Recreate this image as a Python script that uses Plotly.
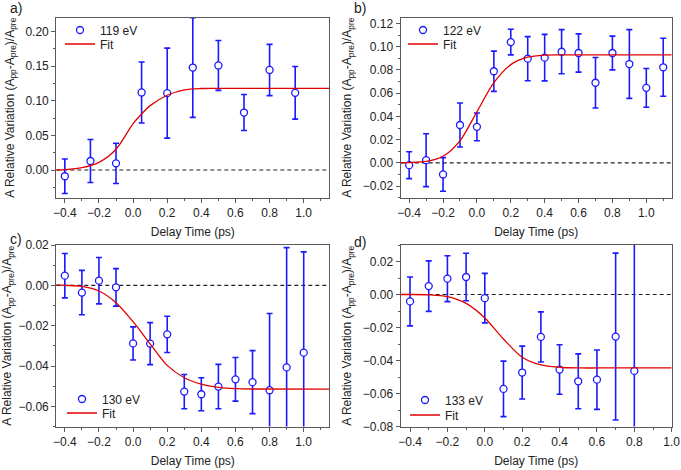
import plotly.graph_objects as go

# ---------------- data ----------------
# panel a) 119 eV
a_t = [-0.4, -0.25, -0.1, 0.05, 0.2, 0.35, 0.5, 0.65, 0.8, 0.95]
a_y = [-0.009, 0.013, 0.0096, 0.112, 0.111, 0.148, 0.151, 0.083, 0.1445, 0.1115]
a_err = [0.025, 0.031, 0.029, 0.044, 0.065, 0.072, 0.036, 0.026, 0.037, 0.038]
a_fit_t = [-0.45, -0.4, -0.3, -0.2, -0.1, 0.0, 0.05, 0.1, 0.2, 0.3, 0.4, 0.5, 0.8, 1.15]
a_fit_y = [0.0, 0.0005, 0.0033, 0.011, 0.030, 0.067, 0.081, 0.093, 0.108, 0.1158, 0.1177, 0.118, 0.118, 0.118]

# panel b) 122 eV
b_t = [-0.4, -0.3, -0.2, -0.1, 0.0, 0.1, 0.2, 0.3, 0.4, 0.5, 0.6, 0.7, 0.8, 0.9, 1.0, 1.1]
b_y = [-0.002, 0.0023, -0.010, 0.0326, 0.031, 0.0789, 0.104, 0.0897, 0.0906, 0.0957,
       0.0946, 0.069, 0.0946, 0.0851, 0.0646, 0.0823]
b_err = [0.0116, 0.0228, 0.0145, 0.019, 0.012, 0.0173, 0.011, 0.019, 0.020, 0.019,
         0.0165, 0.0217, 0.0145, 0.0296, 0.0167, 0.025]
b_fit_t = [-0.45, -0.4, -0.3, -0.2, -0.1, 0.0, 0.1, 0.2, 0.3, 0.4, 0.5, 0.8, 1.15]
b_fit_y = [0.0, 0.0002, 0.0012, 0.0057, 0.019, 0.044, 0.069, 0.0846, 0.091, 0.0928, 0.093, 0.093, 0.093]

# panel c) 130 eV
c_t = [-0.4, -0.3, -0.2, -0.1, 0.0, 0.1, 0.2, 0.3, 0.4, 0.5, 0.6, 0.7, 0.8, 0.9, 1.0]
c_y = [0.0048, -0.0036, 0.0023, -0.001, -0.0288, -0.0289, -0.0243, -0.0527, -0.054,
       -0.0502, -0.0466, -0.048, -0.052, -0.0407, -0.0334]
c_err = [0.011, 0.011, 0.0115, 0.0093, 0.0082, 0.0104, 0.009, 0.0085, 0.0082, 0.011,
         0.0108, 0.0156, 0.038, 0.0594, 0.050]
c_fit_t = [-0.45, -0.4, -0.3, -0.2, -0.1, 0.0, 0.1, 0.2, 0.3, 0.4, 0.5, 0.6, 0.7, 1.15]
c_fit_y = [0.0002, 0.0, -0.0005, -0.0028, -0.0086, -0.018, -0.029, -0.0397, -0.0458,
           -0.049, -0.0506, -0.0512, -0.0514, -0.0515]

# panel d) 133 eV
d_t = [-0.4, -0.3, -0.2, -0.1, 0.0, 0.1, 0.2, 0.3, 0.4, 0.5, 0.6, 0.7, 0.8]
d_y = [-0.0042, 0.0051, 0.0096, 0.0106, -0.0022, -0.0572, -0.0473, -0.0257, -0.0455,
       -0.0526, -0.0516, -0.0255, -0.0463]
d_err = [0.0148, 0.0153, 0.0139, 0.0144, 0.015, 0.0168, 0.016, 0.0152, 0.015, 0.0166,
         0.018, 0.0506, 0.09]
d_fit_t = [-0.45, -0.4, -0.3, -0.2, -0.1, 0.0, 0.1, 0.2, 0.3, 0.4, 0.5, 0.7, 1.0]
d_fit_y = [0.0, 0.0, -0.0002, -0.0013, -0.0054, -0.0142, -0.027, -0.038, -0.0427,
           -0.0441, -0.0445, -0.0445, -0.0445]

labels = ["119 eV", "122 eV", "130 eV", "133 eV"]
panel_letters = ["a)", "b)", "c)", "d)"]
x_ranges = [[-0.45, 1.15], [-0.45, 1.15], [-0.45, 1.15], [-0.45, 1.0]]
y_ranges = [[-0.04, 0.22], [-0.03, 0.125], [-0.07, 0.02], [-0.08, 0.03]]
y_dticks = [0.05, 0.02, 0.02, 0.02]

# ---------------- styling / layout ----------------
W, H = 681, 470
BLUE = "#1a1aff"
RED = "#e00000"
FRAME = "#5a5a5a"
TXT = "#222"
FONT = "Liberation Sans, Arial, sans-serif"

px_x = [(56.3, 329.3), (400.7, 671.7), (56.3, 329.3), (400.7, 671.7)]
px_y = [(17.7, 197.7), (17.7, 197.7), (245.0, 426.5), (245.0, 426.5)]

data_sets = [
    (a_t, a_y, a_err, a_fit_t, a_fit_y),
    (b_t, b_y, b_err, b_fit_t, b_fit_y),
    (c_t, c_y, c_err, c_fit_t, c_fit_y),
    (d_t, d_y, d_err, d_fit_t, d_fit_y),
]

# legend symbol centres (pixels): (x, y_marker_entry, y_fit_entry)
legend_pos = [(78, 30, 44), (421, 30, 44), (80, 399, 413), (423, 400, 415)]
letter_pos = [(8, 8), (352, 8), (8, 239), (352, 242)]

fig = go.Figure()
layout = dict(
    width=W, height=H,
    margin=dict(l=0, r=0, t=0, b=0, autoexpand=False),
    paper_bgcolor="white", plot_bgcolor="white",
    font=dict(family=FONT, size=12, color=TXT),
    showlegend=True,
    shapes=[], annotations=[],
)

ytitle = "A Relative Variation (A<sub>pp</sub>-A<sub>pre</sub>)/A<sub>pre</sub>"

for i, (t, y, err, ft, fy) in enumerate(data_sets):
    n = "" if i == 0 else str(i + 1)
    xa, ya = "x" + n, "y" + n
    leg_m = "legend" + str(2 * i + 2)
    leg_f = "legend" + str(2 * i + 3)
    fig.add_trace(go.Scatter(
        x=t, y=y, mode="markers", name=labels[i],
        xaxis=xa, yaxis=ya, legend=leg_m, showlegend=True,
        marker=dict(symbol="circle", size=7, color="white",
                    line=dict(color=BLUE, width=1.3)),
        error_y=dict(type="data", array=err, visible=True, color=BLUE,
                     thickness=1.6, width=3),
    ))
    fig.add_trace(go.Scatter(
        x=ft, y=fy, mode="lines", name="Fit",
        xaxis=xa, yaxis=ya, legend=leg_f, showlegend=True,
        line=dict(color=RED, width=1.3, shape="spline", smoothing=0.8),
    ))
    x0, x1 = px_x[i]
    yt, yb = px_y[i]
    axis_common = dict(
        showline=True, mirror=True, linecolor=FRAME, linewidth=1.2,
        ticks="outside", ticklen=4, tickcolor=FRAME, tickwidth=1,
        showgrid=False, zeroline=False, automargin=False,
        tickfont=dict(family=FONT, size=12, color=TXT),
    )
    layout["xaxis" + n] = dict(
        axis_common, domain=[x0 / W, x1 / W], anchor=ya, range=x_ranges[i],
        dtick=0.2, tick0=0, tickformat=".1f",
        minor=dict(dtick=0.1, ticklen=2, ticks="outside", tickcolor=FRAME),
        title=dict(text="Delay Time (ps)", font=dict(family=FONT, size=12, color=TXT),
                   standoff=8),
    )
    layout["yaxis" + n] = dict(
        axis_common, domain=[1 - yb / H, 1 - yt / H], anchor=xa, range=y_ranges[i],
        dtick=y_dticks[i], tick0=0, tickformat=".2f",
        minor=dict(dtick=y_dticks[i] / 2, ticklen=2, ticks="outside", tickcolor=FRAME),
        title=dict(text=ytitle, font=dict(family=FONT, size=12, color=TXT),
                   standoff=8),
    )
    lx, lym, lyf = legend_pos[i]
    for leg, ly in ((leg_m, lym), (leg_f, lyf)):
        layout[leg] = dict(
            x=(lx - 18) / W, y=1 - ly / H, xanchor="left", yanchor="middle",
            bgcolor="rgba(0,0,0,0)", borderwidth=0, visible=True,
            font=dict(family=FONT, size=12, color=TXT),
            itemwidth=30,
        )
    layout["shapes"].append(dict(
        type="line", xref=xa + " domain", yref=ya, x0=0, x1=1, y0=0, y1=0,
        line=dict(color="#222", width=1.2, dash="4px,3px"), layer="below",
    ))
    tx, ty = letter_pos[i]
    layout["annotations"].append(dict(
        text=panel_letters[i], xref="paper", yref="paper",
        x=tx / W, y=1 - ty / H, xanchor="left", yanchor="middle",
        showarrow=False, font=dict(family=FONT, size=14, color=TXT),
    ))

fig.update_layout(**layout)
fig.write_html("out.html",
               config={"displayModeBar": False},
               post_script="document.body.style.margin='0';document.body.style.overflow='hidden';")
